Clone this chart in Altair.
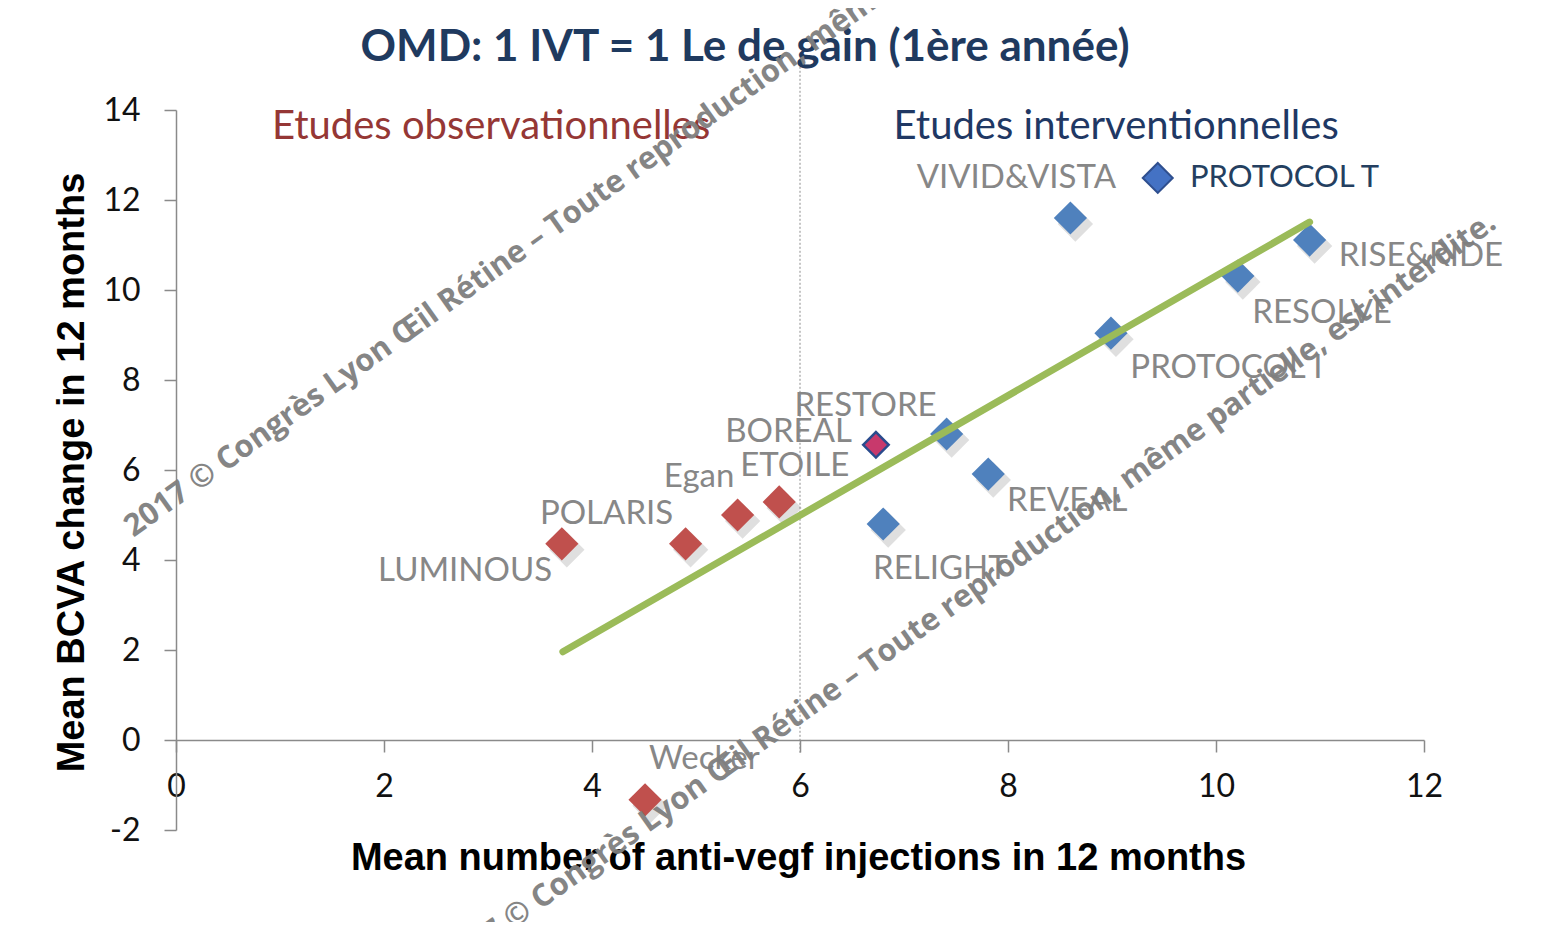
import altair as alt
import pandas as pd

# ---------------- data ----------------
# observational studies (red diamonds)
obs_x = [3.71, 4.90, 5.40, 5.80, 4.51]
obs_y = [4.36, 4.36, 5.00, 5.29, -1.33]
# interventional studies (blue diamonds)
int_x = [7.41, 7.81, 6.80, 8.60, 8.99, 10.21, 10.90]
int_y = [6.80, 5.91, 4.80, 11.60, 9.04, 10.31, 11.11]
# highlighted point (outlined diamond)
hl_x = [6.73]
hl_y = [6.56]
# trend line end points
trend_x = [3.72, 10.90]
trend_y = [1.96, 11.51]
# vertical separator at 6 injections
sep_x = [6, 6]
sep_y = [14.96, -0.33]
# data labels
label_text = ["LUMINOUS", "POLARIS", "Egan", "ETOILE", "BOREAL", "RESTORE", "Wecker",
              "VIVID&VISTA", "RISE&RIDE", "RESOLVE", "PROTOCOL I", "REVEAL", "RELIGHT"]
label_x = [2.78, 4.14, 5.03, 5.95, 5.89, 6.63, 5.08, 8.08, 11.97, 11.02, 10.10, 8.57, 7.35]
label_y = [3.76, 5.02, 5.84, 6.09, 6.84, 7.42, -0.42, 12.49, 10.76, 9.49, 8.27, 5.31, 3.80]
# legend entry
legend_text = ["PROTOCOL T"]
legend_x = [9.44]
legend_y = [12.49]
legend_text_x = [9.75]
# section headings
heading_text = ["Etudes observationnelles", "Etudes interventionnelles"]
heading_x = [3.03, 9.04]
heading_y = [13.62, 13.62]
heading_group = ["obs", "int"]
# axis ticks
x_ticks = [0, 2, 4, 6, 8, 10, 12]
y_ticks = [-2, 0, 2, 4, 6, 8, 10, 12, 14]

title_text = "OMD: 1 IVT = 1 Le de gain (1ère année)"
x_title = "Mean number of anti-vegf injections in 12 months"
y_title = "Mean BCVA change in 12 months"
watermark = "2017 © Congrès Lyon Œil Rétine – Toute reproduction, même partielle, est interdite."

# ---------------- tables ----------------
obs_df = pd.DataFrame({"x": obs_x, "y": obs_y})
int_df = pd.DataFrame({"x": int_x, "y": int_y})
hl_df = pd.DataFrame({"x": hl_x, "y": hl_y})
trend_df = pd.DataFrame({"x": trend_x, "y": trend_y})
sep_df = pd.DataFrame({"x": sep_x[:1], "y": sep_y[:1], "y2": sep_y[1:]})
lab_df = pd.DataFrame({"x": label_x, "y": label_y, "t": label_text})
leg_df = pd.DataFrame({"x": legend_x, "tx": legend_text_x, "y": legend_y, "t": legend_text})
head_df = pd.DataFrame({"x": heading_x, "y": heading_y, "t": heading_text, "g": heading_group})
wm_df = pd.DataFrame({"t": [watermark]})
title_df = pd.DataFrame({"t": [title_text]})

xscale = alt.Scale(domain=[0, 12], nice=False, zero=False)
yscale = alt.Scale(domain=[-2, 14], nice=False, zero=False)

AX_GRAY = "#8a8a8a"
HYPHEN_LABEL = "datum.value < 0 ? '-' + abs(datum.value) : datum.label"

x_axis = alt.Axis(
    values=x_ticks, offset=-90, grid=False,
    tickSize=12, tickWidth=1.5, tickColor=AX_GRAY,
    domainColor=AX_GRAY, domainWidth=1.5,
    labelFont="Lato", labelFontSize=32, labelColor="#111111",
    labelPadding=19, labelFlush=False, labelOverlap=False,
    title=x_title, titleFont="Liberation Sans", titleFontSize=38,
    titleFontWeight="bold", titleColor="#000000",
    titleX=622, titleY=118, titleAlign="center", titleBaseline="middle", titleAngle=0,
)
y_axis = alt.Axis(
    values=y_ticks, grid=False, labelExpr=HYPHEN_LABEL,
    tickSize=12, tickWidth=1.5, tickColor=AX_GRAY,
    domainColor=AX_GRAY, domainWidth=1.5,
    labelFont="Lato", labelFontSize=32, labelColor="#111111",
    labelPadding=24, labelFlush=False, labelOverlap=False,
    title=y_title, titleFont="Liberation Sans", titleFontSize=38,
    titleFontWeight="bold", titleColor="#000000",
    titleX=-104, titleY=362, titleAlign="center", titleBaseline="middle", titleAngle=270,
)


def X(f="x", axis=x_axis):
    return alt.X(f, type="quantitative", scale=xscale, axis=axis)


def Y(f="y", axis=y_axis):
    return alt.Y(f, type="quantitative", scale=yscale, axis=axis)


# separator rule
sep = alt.Chart(sep_df).mark_rule(color="#8c8c8c", strokeWidth=1, strokeDash=[2, 2]).encode(
    x=X(), y=Y(), y2="y2"
)

shadow_all = pd.concat([obs_df, int_df], ignore_index=True)
shadow = alt.Chart(shadow_all).mark_point(
    shape="diamond", filled=True, color="#6f6f6f", opacity=0.22, size=1250,
    xOffset=5, yOffset=6, strokeWidth=0
).encode(x=X(), y=Y())

obs = alt.Chart(obs_df).mark_point(
    shape="diamond", filled=True, color="#C0504D", opacity=1, size=1100, strokeWidth=0
).encode(x=X(), y=Y())

inter = alt.Chart(int_df).mark_point(
    shape="diamond", filled=True, color="#4F81BD", opacity=1, size=1100, strokeWidth=0
).encode(x=X(), y=Y())

hl = alt.Chart(hl_df).mark_point(
    shape="diamond", filled=True, fill="#C8396C", stroke="#2A4B8D", strokeWidth=2.5,
    opacity=1, size=650
).encode(x=X(), y=Y())

trend = alt.Chart(trend_df).mark_line(
    color="#9BBB59", strokeWidth=7, strokeCap="round"
).encode(x=X(), y=Y())

labels = alt.Chart(lab_df).mark_text(
    font="Lato", fontSize=33, color="#878787", align="center", baseline="middle"
).encode(x=X(), y=Y(), text="t:N")

leg_sym = alt.Chart(leg_df).mark_point(
    shape="diamond", filled=True, fill="#4472C4", stroke="#2F4F8F", strokeWidth=2,
    opacity=1, size=900
).encode(x=X(), y=Y())

leg_txt = alt.Chart(leg_df).mark_text(
    font="Lato", fontSize=31, color="#243F60", align="left", baseline="middle"
).encode(x=X("tx"), y=Y(), text="t:N")

heads = alt.Chart(head_df).mark_text(
    font="Lato", fontSize=40, align="center", baseline="middle"
).encode(
    x=X(), y=Y(), text="t:N",
    color=alt.Color("g:N", scale=alt.Scale(domain=["obs", "int"], range=["#953735", "#1F3864"]),
                    legend=None),
)

title = alt.Chart(title_df).mark_text(
    font="Lato", fontSize=44, fontWeight="bold", color="#1F3A5F",
    align="center", baseline="alphabetic"
).encode(x=alt.value(569), y=alt.value(-49), text="t:N")

wm1 = alt.Chart(wm_df).mark_text(
    font="Open Sans", fontSize=31, fontWeight="bold", color="#7f7f7f", opacity=0.95,
    angle=324.5, align="center", baseline="middle"
).encode(x=alt.value(477), y=alt.value(46), text="t:N")

wm2 = alt.Chart(wm_df).mark_text(
    font="Open Sans", fontSize=31, fontWeight="bold", color="#7f7f7f", opacity=0.95,
    angle=324.5, align="center", baseline="middle"
).encode(x=alt.value(792), y=alt.value(484), text="t:N")

chart = alt.layer(
    sep, shadow, obs, inter, hl, trend, labels, leg_sym, leg_txt, heads, title, wm1, wm2
).properties(
    width=1248,
    height=720,
    background="white",
    autosize=alt.AutoSizeParams(type="none"),
    padding={"left": 168, "top": 102, "right": 110, "bottom": 92},
).configure_view(stroke=None)

chart.save("out.html", embed_options={"renderer": "svg", "actions": False})
